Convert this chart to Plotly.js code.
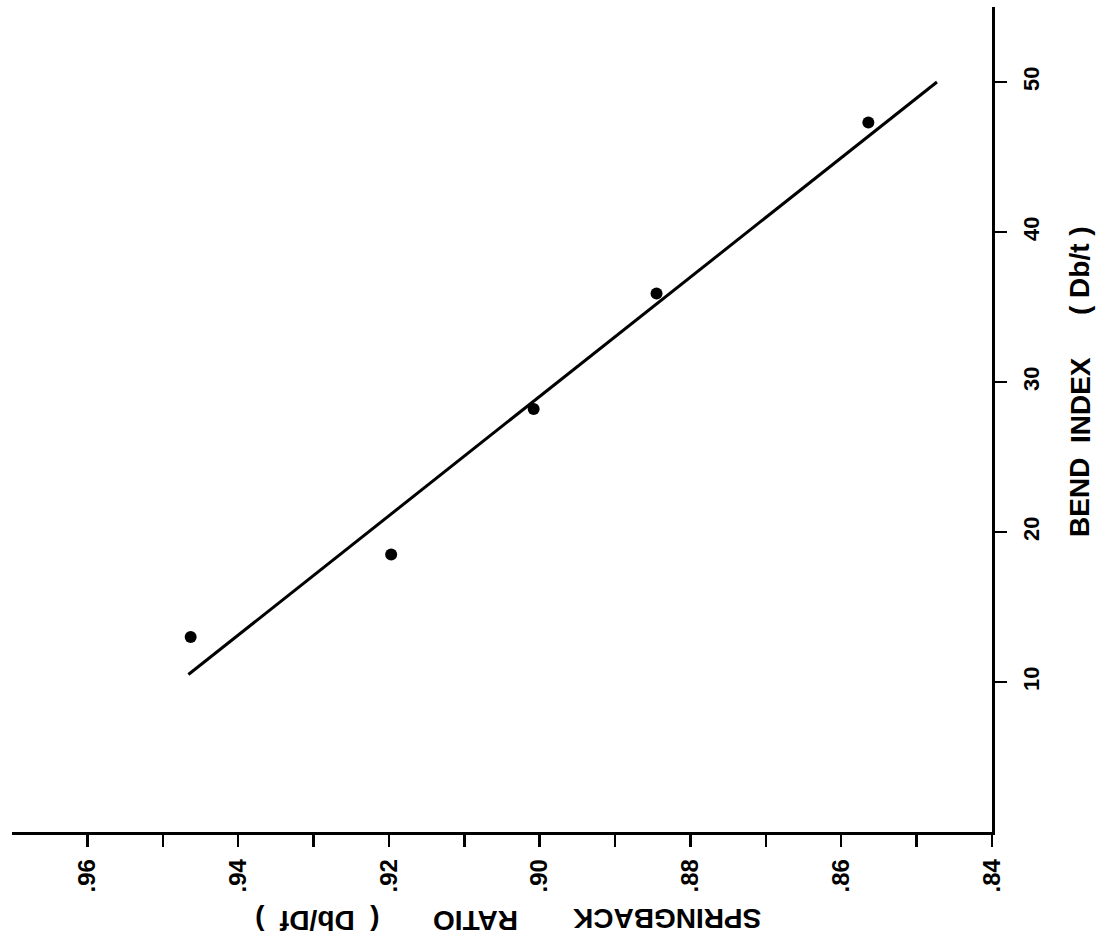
<!DOCTYPE html>
<html>
<head>
<meta charset="utf-8">
<script src="https://cdn.plot.ly/plotly-3.0.1.min.js"></script>
<style>
html,body{margin:0;padding:0;background:#fff;}
#chart{width:1111px;height:951px;}
</style>
</head>
<body>
<div id="chart"></div>
<script>
// Measured points: springback ratio (Db/Df) vs bend index (Db/t)
const springback = [0.9463, 0.9197, 0.9008, 0.8845, 0.8564];
const bendIndex = [13.0, 18.5, 28.2, 35.9, 47.3];
// Fitted straight line end points
const fitSpringback = [0.9466, 0.8473];
const fitBend = [10.5, 50.0];
// Tick values and labels
const xTickVals = [0.96, 0.95, 0.94, 0.93, 0.92, 0.91, 0.90, 0.89, 0.88, 0.87, 0.86, 0.85, 0.84];
const xTickText = ['.96', '', '.94', '', '.92', '', '.90', '', '.88', '', '.86', '', '.84'];
const yTickVals = [10, 20, 30, 40, 50];
const yTickText = ['10', '20', '30', '40', '50'];
const xTitleParts = ['SPRINGBACK', 'RATIO', '(&nbsp;&nbsp;Db/Df&nbsp;&nbsp;)'];
const yTitleParts = ['BEND', 'INDEX', '(&nbsp;Db/t&nbsp;)'];

const FONT = 'Liberation Sans, Arial, sans-serif';

const traces = [
  {
    x: fitSpringback, y: fitBend, mode: 'lines', type: 'scatter',
    line: {color: '#000', width: 3}, hoverinfo: 'skip', showlegend: false
  },
  {
    x: springback, y: bendIndex, mode: 'markers', type: 'scatter',
    marker: {color: '#000', size: 12}, showlegend: false
  }
];

const titleFont = {family: FONT, size: 28, color: '#000', weight: 'bold'};
const xTickFont = {family: FONT, size: 24, color: '#000', weight: 'bold'};
const yTickFont = {family: FONT, size: 22, color: '#000', weight: 'bold'};

const annotations = [
  {text: xTitleParts[0], x: 0.669, y: -0.104},
  {text: xTitleParts[1], x: 0.4735, y: -0.108},
  {text: xTitleParts[2], x: 0.312, y: -0.108}
].map(a => Object.assign({
  xref: 'paper', yref: 'paper', showarrow: false, textangle: 180,
  xanchor: 'center', yanchor: 'middle', font: titleFont
}, a)).concat([
  {text: yTitleParts[0], x: 1.0898, y: 0.405},
  {text: yTitleParts[1], x: 1.0898, y: 0.5236},
  {text: yTitleParts[2], x: 1.0898, y: 0.68}
].map(a => Object.assign({
  xref: 'paper', yref: 'paper', showarrow: false, textangle: -90,
  xanchor: 'center', yanchor: 'middle', font: titleFont
}, a)));

const layout = {
  width: 1111, height: 951,
  margin: {l: 12, r: 119, t: 7, b: 119, pad: 0},
  paper_bgcolor: '#fff', plot_bgcolor: '#fff',
  showlegend: false,
  xaxis: {
    range: [0.97, 0.84], showgrid: false, zeroline: false,
    showline: true, linecolor: '#000', linewidth: 2.5,
    ticks: 'outside', ticklen: 12, tickwidth: 2.5, tickcolor: '#000',
    tickmode: 'array', tickvals: xTickVals, ticktext: xTickText,
    tickangle: -90, ticklabelstandoff: 3,
    tickfont: xTickFont
  },
  yaxis: {
    range: [0, 55], side: 'right', showgrid: false, zeroline: false,
    showline: true, linecolor: '#000', linewidth: 2.5,
    ticks: 'outside', ticklen: 12, tickwidth: 2.5, tickcolor: '#000',
    tickmode: 'array', tickvals: yTickVals, ticktext: yTickText,
    tickangle: -90, ticklabelstandoff: 6,
    tickfont: yTickFont
  },
  annotations: annotations
};

Plotly.newPlot('chart', traces, layout, {displayModeBar: false, staticPlot: true});
</script>
</body>
</html>
